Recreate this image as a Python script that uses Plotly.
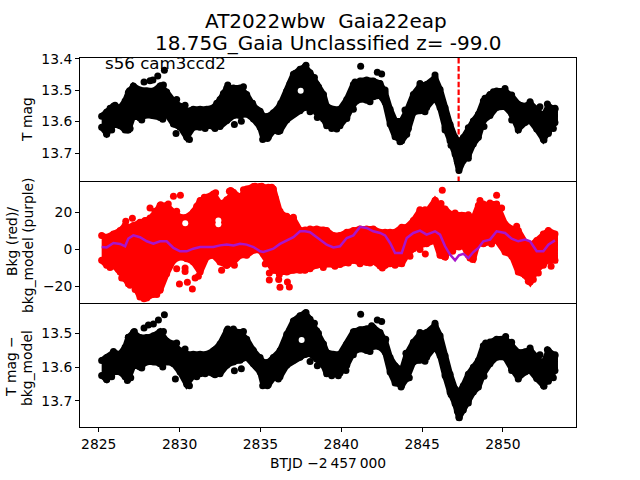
import plotly.graph_objects as go
from plotly.subplots import make_subplots

# shared time knots (BTJD - 2457000)
t_knots = [
    2825.18, 2825.49, 2825.91, 2826.32, 2826.63, 2826.83, 2827.14, 2827.55, 2827.97, 2828.38,
    2828.79, 2829.20, 2829.62, 2830.03, 2830.44, 2830.85, 2831.27, 2831.68, 2832.09, 2832.50,
    2832.92, 2833.33, 2833.74, 2834.15, 2834.57, 2834.98, 2835.18, 2835.49, 2835.80, 2836.21,
    2836.63, 2837.04, 2837.45, 2837.76, 2838.07, 2838.48, 2838.90, 2839.10, 2839.51, 2839.92,
    2840.34, 2840.75, 2841.16, 2841.57, 2841.98, 2842.40, 2842.71, 2843.02, 2843.33, 2843.74,
    2844.05, 2844.46, 2844.87, 2845.28, 2845.80, 2846.11, 2846.42, 2846.73, 2847.04, 2847.28,
    2847.55, 2847.86, 2848.17, 2848.48, 2848.79, 2849.20, 2849.61, 2850.13, 2850.54, 2850.95,
    2851.37, 2851.68, 2852.09, 2852.50, 2852.81, 2853.22,
]

# top panel: T mag, bright and faint edge of the point cloud
tmag_bright = [
    13.583, 13.570, 13.551, 13.556, 13.535, 13.508, 13.487, 13.500, 13.503, 13.503,
    13.487, 13.506, 13.535, 13.551, 13.567, 13.561, 13.561, 13.561, 13.556, 13.530,
    13.493, 13.493, 13.493, 13.514, 13.551, 13.567, 13.583, 13.583, 13.572, 13.549,
    13.503, 13.450, 13.434, 13.426, 13.445, 13.482, 13.514, 13.551, 13.561, 13.561,
    13.530, 13.482, 13.471, 13.468, 13.471, 13.479, 13.508, 13.561, 13.598, 13.598,
    13.567, 13.514, 13.487, 13.482, 13.461, 13.498, 13.556, 13.609, 13.651, 13.667,
    13.651, 13.620, 13.598, 13.577, 13.535, 13.514, 13.503, 13.503, 13.519, 13.545,
    13.551, 13.542, 13.561, 13.583, 13.551, 13.561,
]
tmag_faint = [
    13.618, 13.638, 13.610, 13.613, 13.627, 13.627, 13.581, 13.589, 13.579, 13.581,
    13.587, 13.576, 13.608, 13.618, 13.650, 13.618, 13.618, 13.613, 13.616, 13.616,
    13.597, 13.581, 13.581, 13.576, 13.592, 13.618, 13.653, 13.650, 13.629, 13.629,
    13.595, 13.576, 13.566, 13.555, 13.555, 13.571, 13.592, 13.613, 13.618, 13.613,
    13.587, 13.544, 13.529, 13.532, 13.521, 13.518, 13.539, 13.608, 13.648, 13.661,
    13.640, 13.571, 13.566, 13.555, 13.523, 13.555, 13.618, 13.661, 13.703, 13.756,
    13.724, 13.708, 13.671, 13.650, 13.597, 13.581, 13.555, 13.553, 13.576, 13.624,
    13.603, 13.597, 13.624, 13.656, 13.634, 13.603,
]
# separate points: strays and the bumps along the cloud edge
tmag_out_t = [
    2829.06, 2828.65, 2828.17, 2827.80, 2828.35, 2829.78, 2828.96, 2841.20, 2842.23, 2842.50,
    2844.87, 2832.98, 2833.39, 2833.82, 2838.52, 2838.07, 2850.95, 2852.54, 2852.75,
    2825.70, 2826.01, 2825.49, 2825.80, 2826.77, 2826.94, 2826.90, 2827.66, 2829.00, 2829.82,
    2830.34, 2830.61, 2831.58, 2832.19, 2832.30, 2832.71, 2833.95, 2834.52, 2835.14, 2835.43,
    2836.11, 2836.26, 2836.83, 2837.14, 2837.82, 2838.34, 2838.59, 2839.41, 2839.72, 2840.34,
    2840.75, 2840.85, 2841.78, 2842.71, 2843.63, 2844.15, 2843.94, 2844.67, 2845.18, 2845.80,
    2846.42, 2846.79, 2847.18, 2847.86, 2848.83, 2848.89, 2849.41, 2850.13, 2850.54, 2850.54,
    2851.68, 2852.29, 2852.81, 2853.12, 2853.22,
]
tmag_out = [
    13.437, 13.455, 13.470, 13.474, 13.468, 13.638, 13.593, 13.424, 13.443, 13.449,
    13.479, 13.484, 13.609, 13.599, 13.587, 13.569, 13.627, 13.659, 13.544,
    13.558, 13.548, 13.640, 13.627, 13.627, 13.622, 13.502, 13.595, 13.484, 13.530,
    13.548, 13.657, 13.622, 13.622, 13.542, 13.511, 13.489, 13.542, 13.657, 13.654,
    13.632, 13.542, 13.479, 13.447, 13.421, 13.460, 13.489, 13.622, 13.624, 13.590,
    13.561, 13.474, 13.537, 13.500, 13.664, 13.622, 13.563, 13.505, 13.569, 13.452,
    13.627, 13.675, 13.727, 13.717, 13.616, 13.526, 13.505, 13.495, 13.516, 13.595,
    13.537, 13.553, 13.638, 13.622, 13.558,
]
tmag_gap_t = [2837.49]
tmag_gap = [13.502]

# middle panel: background flux, upper and lower edge of the cloud
bkg_upper = [
    7.4, 6.5, 8.3, 10.1, 12.8, 11.9, 12.8, 14.6, 15.5, 18.2,
    23.6, 23.6, 20.0, 17.3, 17.3, 20.0, 26.3, 28.1, 29.9, 24.5,
    26.3, 30.8, 28.1, 32.6, 33.9, 33.9, 33.5, 33.5, 32.6, 20.0,
    17.3, 16.4, 10.1, 10.4, 11.0, 11.0, 10.4, 10.1, 7.4, 7.4,
    9.2, 10.1, 11.0, 11.0, 11.0, 9.2, 9.2, 9.2, 9.2, 11.9,
    11.9, 15.5, 20.9, 20.0, 26.3, 22.7, 21.8, 19.1, 19.1, 18.2,
    18.2, 18.2, 16.4, 23.6, 23.6, 24.5, 24.5, 13.7, 11.0, 10.1,
    3.8, 2.0, 4.7, 8.3, 10.1, 8.3,
]
bkg_lower = [
    -6.0, -8.7, -8.7, -12.3, -15.9, -18.6, -18.6, -25.8, -26.3, -24.5,
    -22.2, -13.2, -6.0, -4.2, -5.1, -6.9, -12.3, -4.2, -3.3, -6.9,
    -8.7, -6.9, -3.3, -3.3, -0.6, -0.6, -2.4, -7.2, -11.4, -12.3,
    -12.3, -11.4, -11.4, -11.4, -10.5, -8.7, -8.3, -7.8, -8.3, -8.3,
    -7.2, -6.0, -7.2, -7.2, -6.5, -9.0, -8.7, -7.8, -7.8, -7.8,
    -3.3, 0.3, 2.1, 3.0, 4.8, -3.3, -4.2, 0.3, 1.2, 1.2,
    2.1, -3.3, -5.1, 4.8, 3.0, 3.9, 4.8, -1.5, -3.3, -12.3,
    -14.1, -17.7, -11.4, -7.8, -6.0, -6.0,
]
bkg_out_t = [
    2829.62, 2830.05, 2828.83, 2829.30, 2828.17, 2826.67, 2827.08, 2831.53, 2832.23, 2833.16,
    2837.04, 2829.82, 2829.99, 2830.48, 2830.79, 2830.34, 2830.34, 2830.96, 2831.16, 2832.60,
    2832.90, 2833.39, 2835.55, 2835.55, 2835.30, 2835.98, 2836.17, 2836.13, 2836.21, 2836.67,
    2836.79, 2831.99, 2846.25, 2849.61, 2845.82, 2846.17, 2848.58, 2845.20, 2846.44, 2846.89,
    2842.54, 2852.98, 2851.70,
    2825.70, 2826.21, 2826.42, 2826.94, 2827.25, 2827.55, 2827.80, 2828.17, 2828.28, 2828.59,
    2828.79, 2829.10, 2827.86, 2828.17, 2828.48, 2829.82, 2831.06, 2830.90, 2831.53, 2832.03,
    2831.88, 2832.92, 2833.08, 2833.95, 2834.15, 2834.67, 2835.08, 2835.70, 2835.91, 2836.21,
    2836.63, 2838.89, 2839.61, 2840.44, 2841.16, 2841.78, 2842.71, 2843.33, 2844.25, 2844.87,
    2844.87, 2845.18, 2847.04, 2847.45, 2847.86, 2848.79, 2849.20, 2849.92, 2850.85, 2847.96,
    2848.13, 2849.30, 2849.92, 2850.54, 2851.06, 2851.37, 2851.57, 2851.88, 2852.19, 2852.50,
]
bkg_out = [
    28.6, 29.2, 24.1, 24.5, 22.3, 15.1, 16.7, 28.1, 30.6, 31.7,
    17.3, -10.6, -18.8, -17.9, -21.5, -10.1, -12.0, -15.5, -14.6, -11.4,
    -8.7, -8.7, -12.8, -16.6, -8.0, -10.6, -13.7, -16.4, -20.6, -17.7,
    -20.4, 26.8, 31.9, 29.2, 26.3, 24.8, 26.3, -2.5, -4.0, -1.1,
    -10.1, -9.2, -17.3,
    -9.8, -11.0, -15.5, -19.5, -21.8, -24.5, -26.7, -19.5, -23.6, -24.5,
    -21.8, -13.4, 15.5, 16.9, 20.5, 20.5, 23.2, 20.5, 25.0, 27.7,
    25.0, 26.8, 31.3, 32.2, 29.5, 34.0, 34.0, 33.5, 27.7, 20.5,
    17.8, -9.8, -9.2, -7.4, -7.9, -7.4, -8.7, -8.7, -3.8, -0.2,
    21.4, 21.4, 19.6, 18.4, 18.7, 24.5, 25.0, 22.3, 12.4, -4.7,
    -5.6, 2.9, 2.5, -3.8, -11.0, -13.7, -17.3, -16.4, -12.8, -8.7,
]
bkg_gap_t = [2832.40, 2832.40, 2830.35]
bkg_gap = [15.5, 13.5, 14.0]

# purple line on the middle panel
bkg_model = [
    1.2, 1.0, 3.4, 2.9, 1.6, 5.8, 7.5, 6.5, 4.3, 3.0,
    4.3, 4.3, 0.7, -1.1, -1.1, 0.3, 1.2, 1.0, 1.2, 2.1,
    2.5, 2.0, 3.0, 2.5, 1.2, -1.1, -1.5, -0.6, 0.3, 2.9,
    4.7, 6.5, 9.7, 9.7, 9.2, 6.5, 3.9, 2.5, 1.0, 1.6,
    6.1, 7.5, 12.1, 11.5, 9.7, 8.8, 7.5, 3.4, -2.0, -2.0,
    6.1, 8.8, 10.1, 7.9, 9.7, 7.9, 1.6, -2.9, -6.0, -3.3,
    -2.5, -4.7, -1.5, 0.7, 4.3, 5.2, 9.7, 8.8, 5.7, 4.3,
    5.2, 4.3, -1.1, -1.1, 2.5, 4.8,
]

# bottom panel: T mag minus bkg model
corr_bright = [
    13.581, 13.572, 13.557, 13.562, 13.542, 13.513, 13.498, 13.513, 13.513, 13.508,
    13.496, 13.523, 13.532, 13.552, 13.562, 13.562, 13.562, 13.562, 13.552, 13.532,
    13.493, 13.493, 13.498, 13.518, 13.552, 13.572, 13.586, 13.586, 13.572, 13.552,
    13.503, 13.464, 13.449, 13.441, 13.459, 13.493, 13.532, 13.557, 13.562, 13.562,
    13.532, 13.496, 13.490, 13.488, 13.483, 13.498, 13.523, 13.572, 13.596, 13.611,
    13.562, 13.527, 13.503, 13.498, 13.477, 13.508, 13.567, 13.621, 13.665, 13.675,
    13.655, 13.621, 13.601, 13.581, 13.537, 13.526, 13.518, 13.516, 13.537, 13.557,
    13.555, 13.549, 13.572, 13.591, 13.552, 13.567,
]
corr_faint = [
    13.625, 13.637, 13.615, 13.615, 13.629, 13.634, 13.595, 13.600, 13.585, 13.585,
    13.590, 13.585, 13.590, 13.615, 13.651, 13.625, 13.620, 13.615, 13.620, 13.620,
    13.595, 13.585, 13.580, 13.571, 13.590, 13.615, 13.652, 13.652, 13.632, 13.629,
    13.595, 13.580, 13.571, 13.563, 13.561, 13.576, 13.595, 13.620, 13.620, 13.618,
    13.595, 13.556, 13.546, 13.551, 13.539, 13.541, 13.556, 13.615, 13.647, 13.654,
    13.634, 13.585, 13.580, 13.571, 13.539, 13.566, 13.625, 13.674, 13.708, 13.749,
    13.727, 13.698, 13.674, 13.659, 13.620, 13.590, 13.571, 13.571, 13.605, 13.632,
    13.615, 13.610, 13.634, 13.654, 13.639, 13.610,
]
corr_out_t = [
    2829.06, 2828.69, 2828.38, 2828.07, 2827.80, 2827.20, 2828.96, 2829.74, 2832.98, 2833.39,
    2833.82, 2838.07, 2838.52, 2841.20, 2842.23, 2842.50, 2844.87, 2847.30, 2850.95, 2852.54,
    2852.75,
    2825.49, 2825.80, 2825.91, 2826.77, 2826.98, 2826.83, 2827.66, 2829.00, 2829.82, 2830.34,
    2830.61, 2831.06, 2831.58, 2832.19, 2832.19, 2832.60, 2833.33, 2833.95, 2834.52, 2835.14,
    2835.43, 2836.11, 2836.26, 2836.83, 2837.14, 2837.82, 2838.34, 2838.59, 2839.41, 2839.82,
    2840.29, 2840.75, 2840.85, 2841.78, 2841.88, 2842.75, 2843.70, 2844.21, 2844.00, 2844.67,
    2845.18, 2845.80, 2846.48, 2846.79, 2847.18, 2847.86, 2848.83, 2848.93, 2850.17, 2850.54,
    2850.54, 2851.68, 2852.29, 2852.81, 2853.12, 2853.22,
]
corr_out = [
    13.446, 13.461, 13.473, 13.476, 13.485, 13.495, 13.600, 13.635, 13.488, 13.611,
    13.605, 13.584, 13.596, 13.444, 13.461, 13.466, 13.498, 13.750, 13.635, 13.657,
    13.549,
    13.637, 13.629, 13.554, 13.640, 13.632, 13.512, 13.603, 13.495, 13.529, 13.547,
    13.655, 13.629, 13.620, 13.623, 13.549, 13.529, 13.488, 13.495, 13.549, 13.655,
    13.655, 13.635, 13.549, 13.490, 13.463, 13.439, 13.471, 13.500, 13.626, 13.626,
    13.610, 13.564, 13.495, 13.554, 13.478, 13.518, 13.659, 13.632, 13.559, 13.525,
    13.583, 13.471, 13.629, 13.681, 13.730, 13.706, 13.627, 13.529, 13.510, 13.527,
    13.610, 13.544, 13.564, 13.642, 13.632, 13.564,
]
corr_gap_t = [2837.55]
corr_gap = [13.520]

peak_t = 2847.26

FONT = "DejaVu Sans"
PLOT_L, PLOT_T, PLOT_W, PLOT_H = 80, 58, 496, 369


def add_cloud(fig, row, upper, lower, out_t, out_v, gap_t, gap_v, color):
    # edges of the dense cloud, closed and filled, with the separate points on top
    fig.add_trace(
        go.Scatter(
            x=t_knots + t_knots[::-1],
            y=upper + lower[::-1],
            mode="lines+markers",
            fill="toself",
            fillcolor=color,
            line=dict(color=color, width=6),
            marker=dict(color=color, size=7),
        ),
        row=row,
        col=1,
    )
    fig.add_trace(
        go.Scatter(x=out_t, y=out_v, mode="markers", marker=dict(color=color, size=7)),
        row=row,
        col=1,
    )
    fig.add_trace(
        go.Scatter(x=gap_t, y=gap_v, mode="markers", marker=dict(color="white", size=6)),
        row=row,
        col=1,
    )


fig = make_subplots(rows=3, cols=1, shared_xaxes=True, vertical_spacing=0)

fig.add_trace(
    go.Scatter(
        x=[peak_t, peak_t],
        y=[13.398, 13.789],
        mode="lines",
        line=dict(color="#ff0000", width=2.2, dash="5.5px,2.4px"),
    ),
    row=1,
    col=1,
)
add_cloud(fig, 1, tmag_bright, tmag_faint, tmag_out_t, tmag_out, tmag_gap_t, tmag_gap, "black")
add_cloud(fig, 2, bkg_upper, bkg_lower, bkg_out_t, bkg_out, bkg_gap_t, bkg_gap, "#ff0000")
fig.add_trace(
    go.Scatter(x=t_knots, y=bkg_model, mode="lines", line=dict(color="#a815cc", width=2.5)),
    row=2,
    col=1,
)
add_cloud(fig, 3, corr_bright, corr_faint, corr_out_t, corr_out, corr_gap_t, corr_gap, "black")

axis_style = dict(
    showgrid=False,
    zeroline=False,
    showline=True,
    mirror=True,
    linecolor="black",
    linewidth=1,
    tickcolor="black",
    tickwidth=1,
    ticklen=4,
    tickfont=dict(family=FONT, size=13.89, color="black"),
)
fig.update_xaxes(**axis_style, range=[2823.84, 2854.52])
fig.update_xaxes(ticks="", showticklabels=False, row=1, col=1)
fig.update_xaxes(ticks="", showticklabels=False, showline=False, row=2, col=1)
fig.update_xaxes(
    ticks="outside",
    showticklabels=True,
    tickvals=[2825, 2830, 2835, 2840, 2845, 2850],
    tickformat="d",
    row=3,
    col=1,
)
fig.update_yaxes(**axis_style, ticks="outside")
fig.update_yaxes(range=[13.789, 13.398], tickvals=[13.4, 13.5, 13.6, 13.7], tickformat=".1f", row=1, col=1)
fig.update_yaxes(range=[-29.6, 36.9], tickvals=[-20, 0, 20], row=2, col=1)
fig.update_yaxes(range=[13.777, 13.414], tickvals=[13.5, 13.6, 13.7], tickformat=".1f", row=3, col=1)


def label(text, px, py, size=13.89, angle=0, xanchor="center"):
    # px, py are figure pixels, re-based on the plot area set by the margins
    fig.add_annotation(
        text=text,
        x=(px - PLOT_L) / PLOT_W,
        y=1 - (py - PLOT_T) / PLOT_H,
        xref="paper",
        yref="paper",
        showarrow=False,
        xanchor=xanchor,
        yanchor="middle",
        textangle=angle,
        font=dict(family=FONT, size=size, color="black"),
    )


label("AT2022wbw  Gaia22eap", 325.5, 21, size=20)
label("18.75G_Gaia Unclassified z= -99.0", 328, 43, size=20)
label("s56 cam3ccd2", 103, 64, size=16.67, xanchor="left")
label("T mag", 27, 120, angle=-90)
label("Bkg (red)/", 12, 242, angle=-90)
label("bkg_model (purple)", 28, 245, angle=-90)
label("T mag \u2212", 11, 367, angle=-90)
label("bkg_model", 27, 368, angle=-90)
label("BTJD \u22122\u2009457\u2009000", 328, 463)

fig.update_layout(
    width=640,
    height=480,
    showlegend=False,
    paper_bgcolor="white",
    plot_bgcolor="white",
    margin=dict(l=PLOT_L, r=64, t=PLOT_T, b=53, pad=0, autoexpand=False),
)

fig.write_html(
    "out.html",
    config={"displayModeBar": False},
    post_script="document.body.style.margin='0';",
)
